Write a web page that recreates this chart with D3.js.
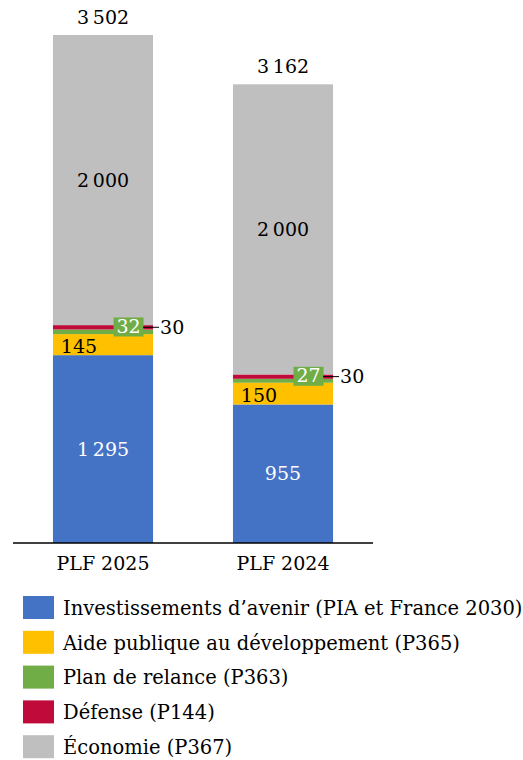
<!DOCTYPE html>
<html>
<head>
<meta charset="utf-8">
<script src="https://cdn.jsdelivr.net/npm/d3@7"></script>
<style>
  body { margin: 0; background: #fff; }
  svg text { font-family: "DejaVu Serif", "Liberation Serif", serif; }
</style>
</head>
<body>
<svg id="chart"></svg>
<script>
const categories = ['PLF 2025', 'PLF 2024'];
const seriesNames = [
  'Investissements d\u2019avenir (PIA et France 2030)',
  'Aide publique au développement (P365)',
  'Plan de relance (P363)',
  'Défense (P144)',
  'Économie (P367)'
];
const colors = ['#4472C4', '#FFC000', '#70AD47', '#C00A3A', '#BFBFBF'];
const investissements = [1295, 955];
const aidePublique = [145, 150];
const planRelance = [32, 27];
const defense = [30, 30];
const economie = [2000, 2000];
const totals = [3502, 3162];

const W = 523, H = 760;
const svg = d3.select('#chart').attr('width', W).attr('height', H);

const baseY = 543;
const fmt = v => d3.format(',')(v).replace(',', '\u202f');

const x = d3.scaleBand()
  .domain(categories)
  .range([13, 373])
  .paddingInner(0.444)
  .paddingOuter(0.222);

const y = d3.scaleLinear()
  .domain([0, 3502])
  .range([baseY, 35]);

const table = categories.map((c, i) => ({
  cat: c,
  s0: investissements[i], s1: aidePublique[i], s2: planRelance[i], s3: defense[i], s4: economie[i]
}));
const stack = d3.stack().keys(['s0', 's1', 's2', 's3', 's4']);
const layers = stack(table);

// bars
svg.append('g').selectAll('g')
  .data(layers)
  .join('g')
  .attr('fill', (d, i) => colors[i])
  .selectAll('rect')
  .data(d => d)
  .join('rect')
  .attr('x', d => x(d.data.cat))
  .attr('width', x.bandwidth())
  .attr('y', d => y(d[1]))
  .attr('height', d => y(d[0]) - y(d[1]));

// axis line
svg.append('line')
  .attr('x1', 13).attr('x2', 373)
  .attr('y1', baseY).attr('y2', baseY)
  .attr('stroke', '#000').attr('stroke-width', 1.5);

const fs = 19;
const labels = svg.append('g').attr('font-size', fs);

// category labels
labels.selectAll('.cat')
  .data(categories)
  .join('text')
  .attr('x', d => x(d) + x.bandwidth() / 2)
  .attr('y', 570)
  .attr('text-anchor', 'middle')
  .attr('fill', '#000')
  .text(d => d);

// totals
labels.selectAll('.tot')
  .data(totals)
  .join('text')
  .attr('x', (d, i) => x(categories[i]) + x.bandwidth() / 2)
  .attr('y', d => y(d) - 11)
  .attr('text-anchor', 'middle')
  .text(d => fmt(d));

// blue and gray labels (centred)
[[0, '#fff'], [4, '#000']].forEach(([k, col]) => {
  labels.selectAll('.c' + k)
    .data(layers[k])
    .join('text')
    .attr('x', d => x(d.data.cat) + x.bandwidth() / 2)
    .attr('y', d => y((d[0] + d[1]) / 2))
    .attr('dy', '0.35em')
    .attr('text-anchor', 'middle')
    .attr('fill', col)
    .text(d => fmt(d[1] - d[0]));
});

// yellow labels, shifted left
labels.selectAll('.c1')
  .data(layers[1])
  .join('text')
  .attr('x', d => x(d.data.cat) + x.bandwidth() * 0.26)
  .attr('y', d => y((d[0] + d[1]) / 2) + 2)
  .attr('dy', '0.35em')
  .attr('text-anchor', 'middle')
  .text(d => fmt(d[1] - d[0]));

// green labels in a box
const g2 = labels.selectAll('.c2')
  .data(layers[2])
  .join('g')
  .attr('transform', d => `translate(${x(d.data.cat) + x.bandwidth() * 0.755},${y(d[1]) - 3})`);
g2.append('rect')
  .attr('x', -15).attr('y', -9).attr('width', 30).attr('height', 19)
  .attr('fill', colors[2]);
g2.append('text')
  .attr('text-anchor', 'middle')
  .attr('dy', '0.35em')
  .attr('fill', '#fff')
  .text(d => fmt(d[1] - d[0]));

// red labels outside with leader
const g3 = labels.selectAll('.c3')
  .data(layers[3])
  .join('g')
  .attr('transform', d => `translate(${x(d.data.cat) + x.bandwidth()},${y((d[0] + d[1]) / 2)})`);
g3.append('line')
  .attr('x1', -10).attr('x2', 6)
  .attr('stroke', '#000').attr('stroke-width', 1);
g3.append('text')
  .attr('x', 7)
  .attr('dy', '0.35em')
  .text(d => fmt(d[1] - d[0]));

// legend
const legend = svg.append('g').attr('font-size', 19.5);
const row = legend.selectAll('g')
  .data(seriesNames)
  .join('g')
  .attr('transform', (d, i) => `translate(23,${596 + i * 34.8})`);
row.append('rect')
  .attr('width', 31).attr('height', 23)
  .attr('fill', (d, i) => colors[i]);
row.append('text')
  .attr('x', 40)
  .attr('y', 12)
  .attr('dy', '0.35em')
  .text(d => d);
</script>
</body>
</html>
